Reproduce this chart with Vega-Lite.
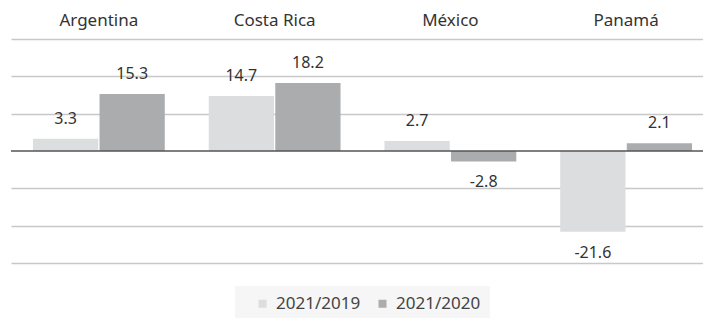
{
  "$schema": "https://vega.github.io/schema/vega-lite/v6.json",
  "width": 692,
  "height": 224,
  "autosize": {"type": "none"},
  "padding": {"left": 11, "top": 39, "right": 0, "bottom": 55},
  "background": "white",
  "config": {
    "view": {"stroke": null},
    "font": "Noto Sans",
    "text": {"font": "Noto Sans"}
  },
  "data": {
    "values": [
      {"pais": "Argentina", "serie": "2021/2019", "valor": 3.3},
      {"pais": "Argentina", "serie": "2021/2020", "valor": 15.3},
      {"pais": "Costa Rica", "serie": "2021/2019", "valor": 14.7},
      {"pais": "Costa Rica", "serie": "2021/2020", "valor": 18.2},
      {"pais": "México", "serie": "2021/2019", "valor": 2.7},
      {"pais": "México", "serie": "2021/2020", "valor": -2.8},
      {"pais": "Panamá", "serie": "2021/2019", "valor": -21.6},
      {"pais": "Panamá", "serie": "2021/2020", "valor": 2.1}
    ]
  },
  "encoding": {
    "x": {
      "field": "pais",
      "type": "nominal",
      "sort": ["Argentina", "Costa Rica", "México", "Panamá"],
      "scale": {"range": [0, 703], "paddingInner": 0.25, "paddingOuter": 0.125},
      "axis": {
        "orient": "top",
        "title": null,
        "domain": false,
        "ticks": false,
        "labelAngle": 0,
        "labelFontSize": 17,
        "labelColor": "#333333",
        "labelFont": "Noto Sans",
        "labelPadding": 10
      }
    },
    "xOffset": {
      "field": "serie",
      "type": "nominal",
      "scale": {"paddingInner": 0.02}
    },
    "y": {
      "field": "valor",
      "type": "quantitative",
      "scale": {"domain": [-30, 30], "nice": false},
      "axis": {
        "title": null,
        "labels": false,
        "ticks": false,
        "domain": false,
        "grid": true,
        "values": [-30, -20, -10, 10, 20, 30],
        "gridColor": "#c8c8c8",
        "gridWidth": 1.5
      }
    }
  },
  "layer": [
    {
      "mark": {"type": "bar"},
      "encoding": {
        "color": {
          "field": "serie",
          "type": "nominal",
          "scale": {"range": ["#dcdddf", "#abacae"]},
          "legend": {
            "orient": "none",
            "direction": "horizontal",
            "legendX": 224,
            "legendY": 247,
            "title": " ",
            "titleOrient": "left",
            "titlePadding": 10,
            "fillColor": "#f6f6f6",
            "padding": 9,
            "symbolType": "square",
            "symbolSize": 64,
            "symbolStrokeWidth": 0,
            "labelFontSize": 17,
            "labelColor": "#444444",
            "labelFont": "Noto Sans",
            "labelOffset": 5,
            "columnPadding": 13
          }
        }
      }
    },
    {
      "transform": [{"filter": "datum.valor >= 0"}],
      "mark": {"type": "text", "baseline": "middle", "dy": -20, "fontSize": 16, "color": "#333333"},
      "encoding": {"text": {"field": "valor", "type": "nominal"}}
    },
    {
      "transform": [{"filter": "datum.valor < 0"}],
      "mark": {"type": "text", "baseline": "middle", "dy": 21, "fontSize": 16, "color": "#333333"},
      "encoding": {"text": {"field": "valor", "type": "nominal"}}
    },
    {
      "data": {"values": [{"cero": 0}]},
      "mark": {"type": "rule", "color": "#555555", "strokeWidth": 1.5},
      "encoding": {"y": {"field": "cero", "type": "quantitative"}, "x": {"value": 0}, "x2": {"value": 692}, "xOffset": null}
    }
  ]
}
